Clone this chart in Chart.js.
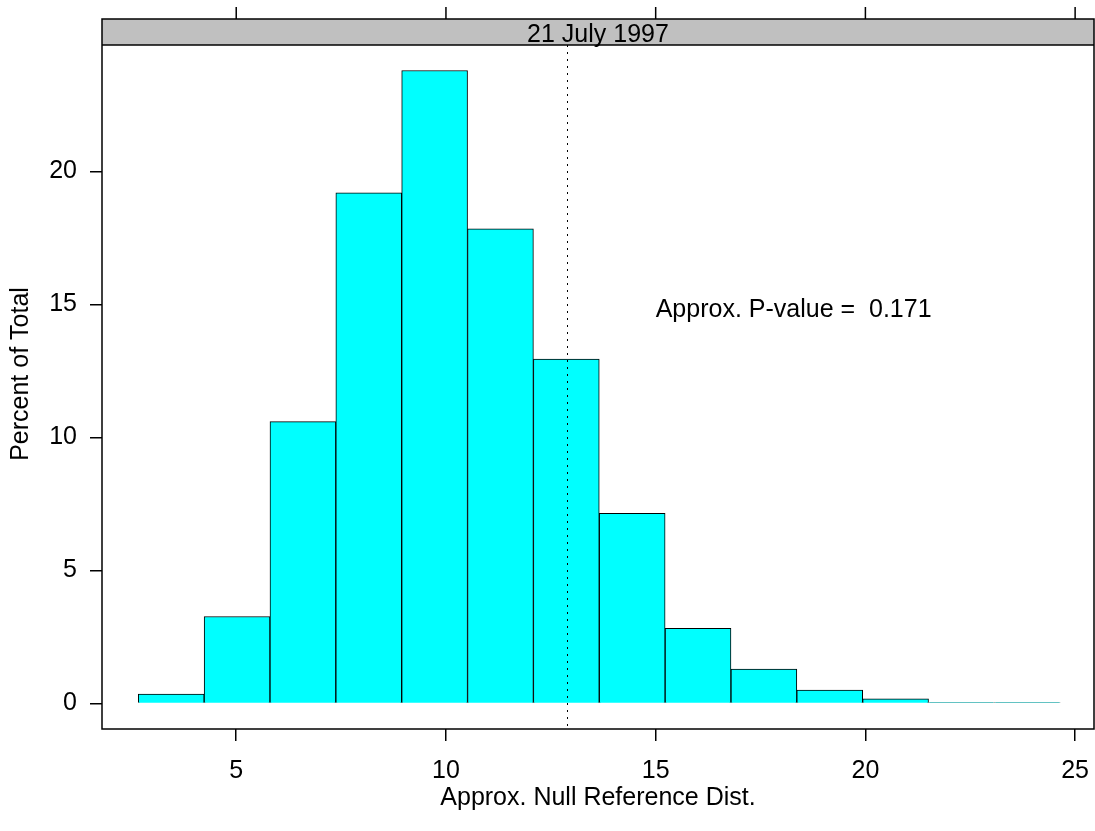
<!DOCTYPE html>
<html>
<head>
<meta charset="utf-8">
<script src="https://cdn.jsdelivr.net/npm/chart.js@4"></script>
<style>
  html, body { margin: 0; padding: 0; background: #fff; }
  canvas { display: block; }
</style>
</head>
<body>
<canvas id="histChart" width="1095" height="831"></canvas>
<script>
// 구간 중심값 (bin width ~1.57)
const binCenters = [3.45, 5.02, 6.59, 8.16, 9.73, 11.30, 12.87, 14.44, 16.01, 17.58, 19.15, 20.72, 22.29, 23.86];
// 각 구간 비율 (%)
const percents = [0.35, 3.27, 10.6, 19.2, 23.8, 17.85, 12.95, 7.15, 2.83, 1.29, 0.5, 0.17, 0.03, 0.03];
const xTicks = [5, 10, 15, 20, 25];
const yTicks = [0, 5, 10, 15, 20];
const observed = 12.88; // 점선 위치
const stripLabel = '21 July 1997';
const pText = 'Approx. P-value =  0.171';

const FONT = '"Liberation Sans", Arial, Helvetica, sans-serif';
const FSIZE = 25;

const latticePanel = {
	id: 'latticePanel',
	afterDraw(chart) {
		const ctx = chart.ctx;
		const a = chart.chartArea;
		const x = chart.scales.x;
		const y = chart.scales.y;
		const stripTop = 19;

		ctx.save();
		// 스트립
		ctx.fillStyle = '#c0c0c0';
		ctx.fillRect(a.left, stripTop, a.right - a.left, a.top - stripTop);

		// 점선
		ctx.strokeStyle = '#000';
		ctx.lineWidth = 1;
		ctx.setLineDash([2, 5]);
		const ox = Math.round(x.getPixelForValue(observed)) + 0.5;
		ctx.beginPath();
		ctx.moveTo(ox, a.top);
		ctx.lineTo(ox, a.bottom);
		ctx.stroke();
		ctx.setLineDash([]);

		// 패널 테두리
		ctx.strokeStyle = '#000';
		ctx.lineWidth = 1.5;
		ctx.strokeRect(a.left, stripTop, a.right - a.left, a.bottom - stripTop);
		ctx.beginPath();
		ctx.moveTo(a.left, a.top);
		ctx.lineTo(a.right, a.top);
		ctx.stroke();

		// 위쪽 눈금
		xTicks.forEach(function(v) {
			const px = x.getPixelForValue(v);
			ctx.beginPath();
			ctx.moveTo(px, stripTop);
			ctx.lineTo(px, stripTop - 12);
			ctx.stroke();
		});

		// 스트립 텍스트
		ctx.fillStyle = '#000';
		ctx.font = FSIZE + 'px ' + FONT;
		ctx.textAlign = 'center';
		ctx.textBaseline = 'middle';
		ctx.fillText(stripLabel, (a.left + a.right) / 2, (stripTop + a.top) / 2 + 3);

		// P-value 텍스트
		ctx.textAlign = 'left';
		ctx.fillText(pText, x.getPixelForValue(15.0), y.getPixelForValue(14.8));

		// 축 제목
		ctx.textAlign = 'center';
		ctx.fillText('Approx. Null Reference Dist.', (a.left + a.right) / 2, 798);
		ctx.translate(21, (stripTop + a.bottom) / 2);
		ctx.rotate(-Math.PI / 2);
		ctx.fillText('Percent of Total', 0, 0);
		ctx.restore();
	}
};

const ctx = document.getElementById('histChart').getContext('2d');
new Chart(ctx, {
	type: 'bar',
	data: {
		datasets: [{
			data: binCenters.map(function(c, i) { return { x: c, y: percents[i] }; }),
			backgroundColor: '#00ffff',
			borderColor: '#000000',
			borderWidth: 1,
			barPercentage: 1.0,
			categoryPercentage: 1.0
		}]
	},
	options: {
		responsive: false,
		animation: false,
		layout: { padding: { top: 45, right: 1, left: 0, bottom: 0 } },
		plugins: {
			legend: { display: false },
			tooltip: { enabled: false }
		},
		scales: {
			x: {
				type: 'linear',
				offset: false,
				min: 1.80,
				max: 25.45,
				afterBuildTicks: function(scale) {
					scale.ticks = xTicks.map(function(v) { return { value: v }; });
				},
				afterFit: function(scale) {
					scale.height = 102;
					scale.paddingLeft = 0;
					scale.paddingRight = 0;
				},
				grid: { offset: false, drawOnChartArea: false, drawTicks: true, tickLength: 12, color: '#000', lineWidth: 1.5 },
				border: { display: false },
				ticks: {
					color: '#000',
					font: { family: FONT, size: FSIZE },
					padding: 15,
					maxRotation: 0
				}
			},
			y: {
				type: 'linear',
				min: -0.96,
				max: 24.76,
				afterBuildTicks: function(scale) {
					scale.ticks = yTicks.map(function(v) { return { value: v }; });
				},
				afterFit: function(scale) {
					scale.width = 102;
					scale.paddingTop = 0;
					scale.paddingBottom = 0;
				},
				grid: { drawOnChartArea: false, drawTicks: true, tickLength: 12, color: '#000', lineWidth: 1.5 },
				border: { display: false },
				ticks: {
					color: '#000',
					font: { family: FONT, size: FSIZE },
					padding: 13
				}
			}
		}
	},
	plugins: [latticePanel]
});
</script>
</body>
</html>
